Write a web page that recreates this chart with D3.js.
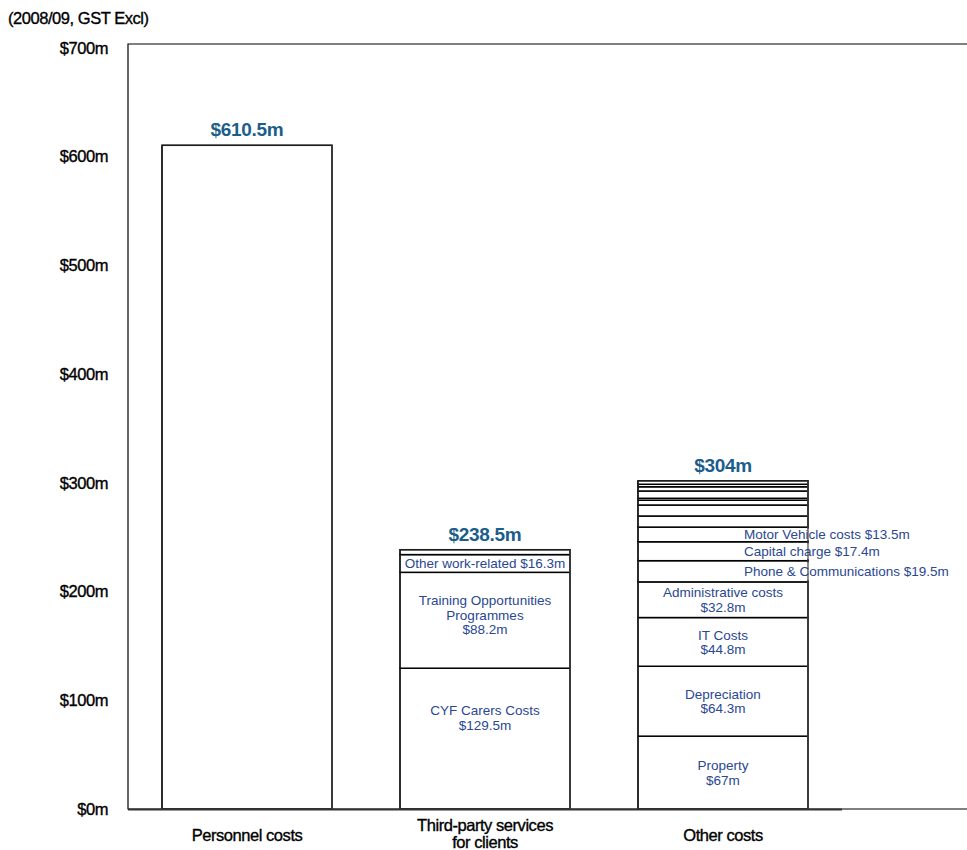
<!DOCTYPE html>
<html>
<head>
<meta charset="utf-8">
<script src="https://cdn.jsdelivr.net/npm/d3@7"></script>
<style>
  body { margin: 0; background: #fff; }
  svg { display: block; }
</style>
</head>
<body>
<div id="chart"></div>
<script>
(function(){

    const width = 967, height = 850;

    // Data
    const categories = ["Personnel costs", "Third-party services\nfor clients", "Other costs"];
    const totals = [610.5, 238.5, 304];
    const totalLabels = ["$610.5m", "$238.5m", "$304m"];

    // stacked segments per bar, bottom to top
    const personnelSegments = [
        { value: 610.5, label: [] }
    ];
    const thirdPartySegments = [
        { value: 129.5, label: ["CYF Carers Costs", "$129.5m"], pos: 0.35 },
        { value: 88.2, label: ["Training Opportunities", "Programmes", "$88.2m"], pos: 0.44 },
        { value: 16.3, label: ["Other work-related $16.3m"], pos: 0.5 },
        { value: 4.5, label: [] }
    ];
    const otherSegments = [
        { value: 67, label: ["Property", "$67m"] },
        { value: 64.3, label: ["Depreciation", "$64.3m"] },
        { value: 44.8, label: ["IT Costs", "$44.8m"] },
        { value: 32.8, label: ["Administrative costs", "$32.8m"] },
        { value: 19.5, label: ["Phone & Communications $19.5m"], outside: true },
        { value: 17.4, label: ["Capital charge $17.4m"], outside: true },
        { value: 13.5, label: ["Motor Vehicle costs $13.5m"], outside: true },
        { value: 10.2, label: [] },
        { value: 10.1, label: [] },
        { value: 4.4, label: [] },
        { value: 1.8, label: [] },
        { value: 6.7, label: [] },
        { value: 3.9, label: [] },
        { value: 2.3, label: [] },
        { value: 3.2, label: [] }
    ];
    const segments = [personnelSegments, thirdPartySegments, otherSegments];
    const yTicks = [0, 100, 200, 300, 400, 500, 600, 700];

    const frameTop = 44, plotTop = 48, plotLeft = 128, plotBottom = 809;

    let svg = d3.select("#chart")
        .append("svg")
        .attr("width", width)
        .attr("height", height);

    // Scales
    let x = d3.scaleBand()
        .domain(categories)
        .range([plotLeft, 842])
        .paddingInner(0.2857)
        .paddingOuter(0.1429);

    let y = d3.scaleLinear()
        .domain([0, 700])
        .range([plotBottom, plotTop]);

    const axisFont = "'Liberation Sans', Arial, sans-serif";
    function darkText(sel, size) {
        sel.attr("fill", "#000")
            .attr("stroke", "#000")
            .attr("stroke-width", 0.35)
            .style("font-family", axisFont)
            .style("font-size", size + "px")
            .style("letter-spacing", "-0.45px");
    }

    // Frame
    svg.append("path")
        .attr("d", `M${width + 2},${frameTop}H${plotLeft}V${plotBottom}H${width + 2}`)
        .attr("fill", "none")
        .attr("stroke", "#000")
        .attr("stroke-width", 1.2);

    // Y axis
    let yAxis = svg.append("g")
        .attr("transform", `translate(${plotLeft}, 0)`)
        .call(d3.axisLeft(y).tickValues(yTicks).tickSize(0).tickPadding(20)
            .tickFormat(d => "$" + d + "m"));
    yAxis.select(".domain").remove();
    yAxis.selectAll("text").call(darkText, 16.5);

    // Subtitle
    svg.append("text")
        .attr("x", 8)
        .attr("y", 24)
        .call(darkText, 16.5)
        .text("(2008/09, GST Excl)");

    // Bars
    const labelFont = "'Liberation Sans', Arial, sans-serif";
    const labelColor = "#2a4792";
    const lineH = 14.5;

    categories.forEach(function(cat, i) {
        let x0 = x(cat), bw = x.bandwidth();
        let g = svg.append("g");
        let cum = 0;
        let stacked = segments[i].map(function(s) {
            let r = { y0: cum, y1: cum + s.value, seg: s };
            cum += s.value;
            return r;
        });
        let barTop = y(cum);

        // segment rects
        g.selectAll("rect.seg")
            .data(stacked)
            .enter()
            .append("rect")
            .attr("class", "seg")
            .attr("x", x0)
            .attr("width", bw)
            .attr("y", d => y(d.y1))
            .attr("height", d => y(d.y0) - y(d.y1))
            .attr("fill", "#fff")
            .attr("stroke", "#000")
            .attr("stroke-width", 1.5);

        // outline
        g.append("rect")
            .attr("x", x0)
            .attr("y", barTop)
            .attr("width", bw)
            .attr("height", y(0) - barTop)
            .attr("fill", "none")
            .attr("stroke", "#222")
            .attr("stroke-width", 1.2);

        // segment labels
        stacked.forEach(function(d) {
            let s = d.seg;
            if (!s.label.length) return;
            let top = y(d.y1), bot = y(d.y0);
            let pos = s.pos === undefined ? 0.5 : s.pos;
            let cy = top + (bot - top) * pos;
            let n = s.label.length;
            let t = g.append("text")
                .attr("fill", labelColor)
                .style("font-family", labelFont)
                .style("font-size", "13.5px");
            if (s.outside) {
                t.attr("x", x0 + bw - 64).attr("y", cy + 5)
                    .text(s.label[0]);
                let bb = t.node().getBBox();
                g.insert("rect", "text")
                    .attr("x", bb.x - 1)
                    .attr("y", top + 1.5)
                    .attr("width", bb.width + 4)
                    .attr("height", bot - top - 3)
                    .attr("fill", "#fff");
            } else {
                t.attr("text-anchor", "middle");
                s.label.forEach(function(line, k) {
                    t.append("tspan")
                        .attr("x", x0 + bw / 2)
                        .attr("y", cy + 5 + (k - (n - 1) / 2) * lineH)
                        .text(line);
                });
            }
        });

        // bar right edge over the outside label boxes
        g.append("line")
            .attr("x1", x0 + bw).attr("x2", x0 + bw)
            .attr("y1", barTop).attr("y2", y(0))
            .attr("stroke", "#444")
            .attr("stroke-width", 1.2);

        // total label
        svg.append("text")
            .attr("x", x0 + bw / 2)
            .attr("y", barTop - 9)
            .attr("text-anchor", "middle")
            .attr("fill", "#1b5e8c")
            .style("font-family", labelFont)
            .style("font-weight", "bold")
            .style("font-size", "19px")
            .style("letter-spacing", "-0.3px")
            .text(totalLabels[i]);

        // category label
        let ct = svg.append("text")
            .attr("text-anchor", "middle")
            .call(darkText, 16.5);
        let lines = cat.split("\n");
        lines.forEach(function(line, k) {
            ct.append("tspan")
                .attr("x", x0 + bw / 2)
                .attr("y", lines.length > 1 ? 831 + k * 17 : 841)
                .text(line);
        });
    });

    // baseline
    svg.append("line")
        .attr("x1", plotLeft).attr("x2", 842)
        .attr("y1", plotBottom + 0.5).attr("y2", plotBottom + 0.5)
        .attr("stroke", "#333")
        .attr("stroke-width", 2);

})();
</script>
</body>
</html>
